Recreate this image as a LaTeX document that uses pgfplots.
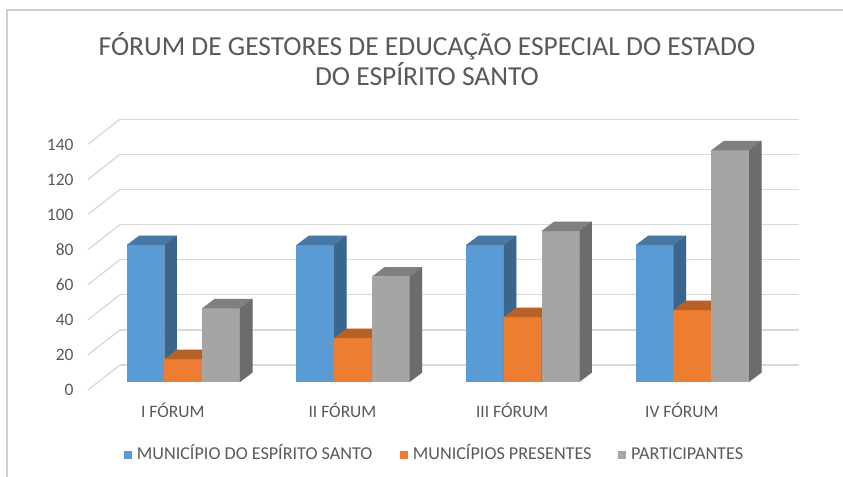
\documentclass[border=0pt]{standalone}
\usepackage{pgfplots}
\pgfplotsset{compat=1.18}
\usepackage{fontspec}
\setmainfont{Carlito}
\definecolor{txt}{HTML}{595959}
\definecolor{gridc}{HTML}{D9D9D9}
\definecolor{framec}{HTML}{D0D0D0}
\definecolor{cblue}{HTML}{5B9BD5}
\definecolor{corange}{HTML}{ED7D31}
\definecolor{cgray}{HTML}{A5A5A5}
% geometry of the 3D bars (1 px = 0.75pt)
\def\yunit{1.31625}% pt per data unit
\def\hbw{14.175pt}% half bar width
\def\ddx{9.4pt}% depth offset x
\def\ddy{7.1pt}% depth offset y
\newcommand\sidepath{%
  \pgfpathmoveto{\pgfpoint{\hbw}{-\bh}}%
  \pgfpathlineto{\pgfpointadd{\pgfpoint{\hbw}{-\bh}}{\pgfpoint{\ddx}{\ddy}}}%
  \pgfpathlineto{\pgfpointadd{\pgfpoint{\hbw}{0pt}}{\pgfpoint{\ddx}{\ddy}}}%
  \pgfpathlineto{\pgfpoint{\hbw}{0pt}}%
  \pgfpathclose}
\newcommand\toppath{%
  \pgfpathmoveto{\pgfpoint{-\hbw}{0pt}}%
  \pgfpathlineto{\pgfpoint{\hbw}{0pt}}%
  \pgfpathlineto{\pgfpointadd{\pgfpoint{\hbw}{0pt}}{\pgfpoint{\ddx}{\ddy}}}%
  \pgfpathlineto{\pgfpointadd{\pgfpoint{-\hbw}{0pt}}{\pgfpoint{\ddx}{\ddy}}}%
  \pgfpathclose}
\pgfdeclareplotmark{bar3d}{%
  \pgfmathsetlengthmacro\bh{\rawy*\yunit}%
  \pgfpathrectanglecorners{\pgfpoint{-\hbw}{-\bh}}{\pgfpoint{\hbw}{0pt}}%
  \pgfusepathqfill
  \sidepath\pgfusepathqfill
  \toppath\pgfusepathqfill
  \begin{pgfscope}\pgfsetfillcolor{black}\pgfsetfillopacity{0.34}\sidepath\pgfusepathqfill\end{pgfscope}%
  \begin{pgfscope}\pgfsetfillcolor{black}\pgfsetfillopacity{0.22}\toppath\pgfusepathqfill\end{pgfscope}%
}
\begin{document}
\begin{tikzpicture}
\path[use as bounding box] (0pt,0pt) rectangle (632.25pt,357.75pt);
\draw[framec, line width=1.2pt] (5.25pt,0pt) -- (5.25pt,350.25pt) -- (632.25pt,350.25pt);
\node[text=txt, font=\fontsize{20.6}{23}\selectfont, align=center] at (320.25pt,313.5pt)
  {FÓRUM DE GESTORES DE EDUCAÇÃO ESPECIAL DO ESTADO\\DO ESPÍRITO SANTO};
% back wall grid
\begin{axis}[
  at={(153.6pt,84pt)}, anchor=origin,
  scale only axis, width=509.1pt, height=184.275pt,
  xmin=-0.5, xmax=3.5, ymin=0, ymax=140,
  axis line style={draw=none}, tick style={draw=none},
  xtick=\empty, ytick={0,20,...,140}, yticklabels={},
  ymajorgrids, major grid style={gridc, line width=1pt},
  clip=false,
]
\addplot[draw=none, forget plot] coordinates {(0,0)};
\pgfplotsinvokeforeach{0,20,40,60,80,100,120,140}{
  \draw[gridc, line width=1pt] (axis cs:-0.5,#1) -- ++(-24pt,-18.75pt);
}
\end{axis}
% bars plane
\begin{axis}[
  at={(137.475pt,71.25pt)}, anchor=origin,
  scale only axis, width=509.1pt, height=184.275pt,
  xmin=-0.5, xmax=3.5, ymin=0, ymax=140,
  axis line style={draw=none}, tick style={draw=none},
  major tick length=0pt,
  xtick={0,1,2,3}, xticklabels={I FÓRUM, II FÓRUM, III FÓRUM, IV FÓRUM},
  ytick={0,20,...,140},
  /pgf/number format/assume math mode=true,
  ticklabel style={text=txt, font=\fontsize{13.1}{15}\selectfont, inner sep=0pt},
  xticklabel style={anchor=base, xshift=-7.9pt, yshift=-27pt},
  yticklabel style={anchor=base east, xshift=-18.5pt, yshift=-10.5pt},
  clip=false,
  visualization depends on={rawy \as \rawy},
  legend columns=3,
  legend style={at={(axis description cs:0.0315,-0.297)}, anchor=west,
    draw=none, fill=none, text=txt, font=\fontsize{13.6}{15}\selectfont,
    nodes={text height=9.5pt, text depth=2.5pt, inner xsep=4pt},
    /tikz/column 2/.style={column sep=16.8pt},
    /tikz/column 4/.style={column sep=16.1pt}},
  legend cell align=left,
]
\addplot[only marks, mark=bar3d, color=cblue,
  legend image code/.code={\fill[cblue] (0pt,-2.6pt) rectangle (5.2pt,2.6pt);}]
  coordinates {(-0.2227,78) (0.7773,78) (1.7773,78) (2.7773,78)};
\addlegendentry{MUNICÍPIO DO ESPÍRITO SANTO}
\addplot[only marks, mark=bar3d, color=corange,
  legend image code/.code={\fill[corange] (0pt,-2.6pt) rectangle (5.2pt,2.6pt);}]
  coordinates {(0,13) (1,25) (2,37) (3,41)};
\addlegendentry{MUNICÍPIOS PRESENTES}
\addplot[only marks, mark=bar3d, color=cgray,
  legend image code/.code={\fill[cgray] (0pt,-2.6pt) rectangle (5.2pt,2.6pt);}]
  coordinates {(0.2227,42) (1.2227,60) (2.2227,86) (3.2227,132)};
\addlegendentry{PARTICIPANTES}
\end{axis}
\end{tikzpicture}
\end{document}
